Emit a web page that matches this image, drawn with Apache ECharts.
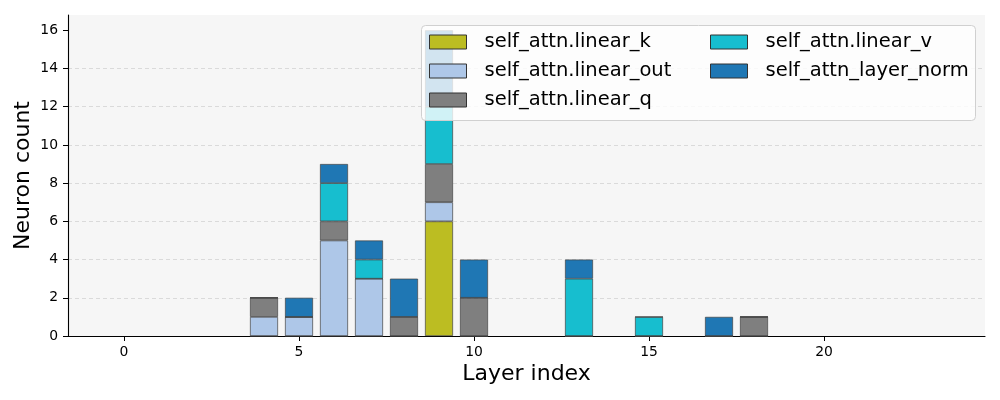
<!DOCTYPE html>
<html><head><meta charset="utf-8">
<script src="https://cdn.jsdelivr.net/npm/echarts@6/dist/echarts.min.js"></script>
<style>html,body{margin:0;padding:0;background:#fff}#c{width:1000px;height:400px}</style>
</head><body><div id="c"></div>
<script>
const layers = [4, 5, 6, 7, 8, 9, 10, 13, 15, 17, 18];
const seriesNames = ['self_attn.linear_k', 'self_attn.linear_out', 'self_attn.linear_q', 'self_attn.linear_v', 'self_attn_layer_norm'];
const linearK    = [0, 0, 0, 0, 0, 6, 0, 0, 0, 0, 0];
const linearOut  = [1, 1, 5, 3, 0, 1, 0, 0, 0, 0, 0];
const linearQ    = [1, 0, 1, 0, 1, 2, 2, 0, 0, 0, 1];
const linearV    = [0, 0, 2, 1, 0, 3, 0, 3, 1, 0, 0];
const layerNorm  = [0, 1, 1, 1, 2, 4, 2, 1, 0, 1, 0];
const xTicks = [0, 5, 10, 15, 20];
const yTicks = [0, 2, 4, 6, 8, 10, 12, 14, 16];
const colors = ['#bcbd22', '#aec7e8', '#7f7f7f', '#17becf', '#1f77b4'];
const values = [linearK, linearOut, linearQ, linearV, layerNorm];

const font = 'DejaVu Sans';
const chart = echarts.init(document.getElementById('c'), null, {renderer: 'canvas'});

// dimension 0 = count (stacked), dimension 1 = layer index
const series = seriesNames.map((name, i) => ({
  name: name,
  type: 'bar',
  stack: 'total',
  barWidth: 28,
  dimensions: ['count', 'layer'],
  encode: {x: 'layer', y: 'count'},
  itemStyle: {color: colors[i], borderColor: '#444', borderWidth: 0.7},
  emphasis: {disabled: true},
  data: layers.map((l, j) => [values[i][j], l])
}));

const legendText = {fontFamily: font, fontSize: 19.5, color: '#000', padding: [0, 0, 0, 13]};
chart.setOption({
  animation: false,
  backgroundColor: '#ffffff',
  textStyle: {fontFamily: font},
  grid: {left: 68, right: 15, top: 15, bottom: 64, show: true, backgroundColor: '#f6f6f6', borderWidth: 0},
  xAxis: {
    type: 'value', min: -1.6, max: 24.6,
    name: 'Layer index', nameLocation: 'middle', nameGap: 27, nameMoveOverlap: false,
    nameTextStyle: {fontFamily: font, fontSize: 22, color: '#000'},
    axisLine: {show: true, onZero: false, lineStyle: {color: '#000', width: 1.1}},
    axisTick: {show: true, length: 5, lineStyle: {color: '#000', width: 1}, customValues: xTicks},
    axisLabel: {fontFamily: font, fontSize: 13.9, color: '#000', margin: 9, customValues: xTicks},
    splitLine: {show: false}
  },
  yAxis: {
    type: 'value', min: 0, max: 16.8,
    name: 'Neuron count', nameLocation: 'middle', nameGap: 34, nameRotate: 90, nameMoveOverlap: false,
    nameTextStyle: {fontFamily: font, fontSize: 22, color: '#000'},
    axisLine: {show: true, onZero: false, lineStyle: {color: '#000', width: 1.1}},
    axisTick: {show: true, length: 5, lineStyle: {color: '#000', width: 1}, customValues: yTicks},
    axisLabel: {fontFamily: font, fontSize: 13.9, color: '#000', margin: 10, customValues: yTicks},
    splitLine: {show: true, showMaxLine: false, showMinLine: false, lineStyle: {color: '#d3d3d3', type: [4, 3], width: 0.8}}
  },
  graphic: [{
    type: 'rect', z: 10, silent: true,
    shape: {x: 421.5, y: 25.5, width: 554, height: 95, r: 4},
    style: {fill: 'rgba(255,255,255,0.8)', stroke: '#d0d0d0', lineWidth: 1}
  }],
  legend: [{
    orient: 'vertical', left: 424, top: 27, z: 20,
    itemWidth: 37, itemHeight: 14, itemGap: 9,
    icon: 'rect',
    itemStyle: {borderColor: '#333', borderWidth: 1},
    textStyle: legendText,
    selectedMode: false,
    data: [seriesNames[0], seriesNames[1], seriesNames[2]]
  }, {
    orient: 'vertical', left: 705, top: 27, z: 20,
    itemWidth: 37, itemHeight: 14, itemGap: 9,
    icon: 'rect',
    itemStyle: {borderColor: '#333', borderWidth: 1},
    textStyle: legendText,
    selectedMode: false,
    data: [seriesNames[3], seriesNames[4]]
  }],
  series: series
});
</script></body></html>
